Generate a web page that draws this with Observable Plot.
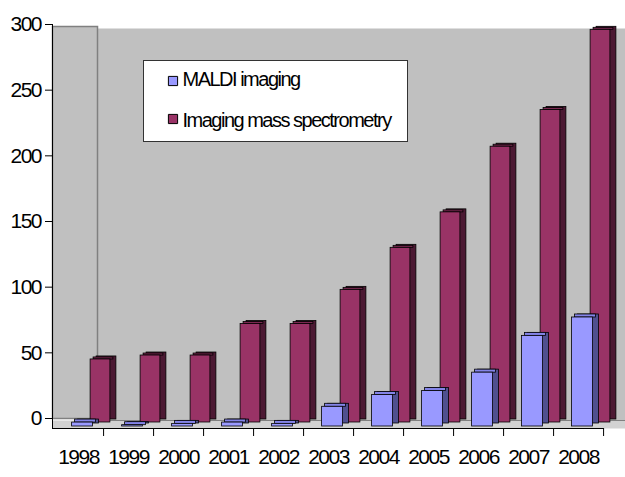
<!DOCTYPE html>
<html><head><meta charset="utf-8">
<script src="https://cdn.jsdelivr.net/npm/d3@7"></script>
<script src="https://cdn.jsdelivr.net/npm/@observablehq/plot@0.6"></script>
<style>
html,body{margin:0;padding:0;background:#fff;}
#chart svg text{letter-spacing:-1.5px;}
</style></head><body><div id="chart"></div>
<script>
// ---- data ----
const years = ["1998","1999","2000","2001","2002","2003","2004","2005","2006","2007","2008"];
const maldiImaging = [3, 1, 2, 3, 2, 15, 24, 27, 41, 69, 83];
const imagingMassSpec = [48, 51, 51, 75, 75, 101, 133, 160, 210, 238, 299];
const seriesNames = ["MALDI imaging", "Imaging mass spectrometry"];
const yTicks = [0, 50, 100, 150, 200, 250, 300];

const rows = years.map((year, i) => ({year, maldi: maldiImaging[i], ims: imagingMassSpec[i]}));

// ---- style ----
const W = 625, H = 477, mL = 52, mR = 21, mT = 24, mB = 59;
const blue = "#9999ff", blueSide = "#50508f", blueTop = "#8484e8";
const maroon = "#993366", maroonSide = "#4c1933", maroonTop = "#7a2851";
const wall = "#c0c0c0", floor = "#d2d2d2", edge = "#808080";
const font = "'Liberation Sans', Arial, sans-serif";

const bar = (y, fill, dx, dy, inset) => Plot.barY(rows, {
  x: "year", y, fill, stroke: "#000", strokeWidth: 0.8,
  insetLeft: inset, insetRight: inset, dx, dy
});
// thin top face of a 3D column
const topFace = (y, fill, dx, dy, inset, depth) => Plot.barY(rows, {
  x: "year", y1: y, y2: y, fill, stroke: "#000", strokeWidth: 0.8,
  insetLeft: inset, insetRight: inset, insetTop: -depth, dx, dy
});

const chart = Plot.plot({
  width: W, height: H,
  marginLeft: mL, marginRight: mR, marginTop: mT, marginBottom: mB,
  style: {fontFamily: font, background: "#fff", overflow: "visible"},
  x: {type: "band", domain: years, padding: 0, label: null},
  y: {domain: [0, 300], label: null},
  marks: [
    // back wall
    Plot.frame({fill: wall, insetLeft: 45, insetTop: 4, insetBottom: -2, insetRight: -mR}),
    // floor
    Plot.frame({fill: floor, insetTop: H - mT - mB + 2, insetBottom: -10, insetRight: -mR}),
    Plot.ruleY([0], {dy: 2, insetLeft: 45, insetRight: -mR, stroke: edge}),
    // left side wall
    Plot.frame({fill: wall, stroke: edge, strokeWidth: 1.5, insetTop: 2, insetRight: W - mL - mR - 45}),
    // legend box
    Plot.frame({fill: "#fff", stroke: "#333", strokeWidth: 1, insetLeft: 91, insetTop: 36, insetRight: 197, insetBottom: 277}),
    Plot.dot([seriesNames[0]], {frameAnchor: "top-left", dx: 120.5, dy: 56.5, symbol: "square", r: 5.2, fill: blue, stroke: "#000", strokeWidth: 1}),
    Plot.dot([seriesNames[1]], {frameAnchor: "top-left", dx: 120.5, dy: 94.5, symbol: "square", r: 5.2, fill: maroon, stroke: "#000", strokeWidth: 1}),
    Plot.text([seriesNames[0]], {frameAnchor: "top-left", text: d => d, dx: 130, dy: 47.7, textAnchor: "start", lineAnchor: "top", fontSize: 20, fill: "#000"}),
    Plot.text([seriesNames[1]], {frameAnchor: "top-left", text: d => d, dx: 130, dy: 88.3, textAnchor: "start", lineAnchor: "top", fontSize: 20, fill: "#000"}),
    // back row: Imaging mass spectrometry (side face, top face, front face)
    bar("ims", maroonSide, 28, 1, 15.1),
    topFace("ims", maroonTop, 25, 4, 15.1, 2),
    bar("ims", maroon, 22, 4, 15.1),
    // front row: MALDI imaging
    bar("maldi", blueSide, 10, 5, 14.6),
    topFace("maldi", blueTop, 7, 8, 14.6, 3),
    bar("maldi", blue, 4, 8, 14.6),
    // floor front edge and axes
    Plot.ruleY([0], {dy: 10, stroke: "#000", strokeWidth: 1}),
    Plot.frame({anchor: "left", stroke: "#000", strokeWidth: 1, insetBottom: -10}),
    Plot.axisY(yTicks, {tickSize: 7, tickPadding: 4.5, fontSize: 21, stroke: "#000", fill: "#000"}),
    Plot.axisX({tickSize: 8, dx: (W - mL - mR) / years.length / 2, dy: 10, tickFormat: () => "", stroke: "#000"}),
    Plot.axisX({tickSize: 0, tickPadding: 31, fontSize: 21, fill: "#000"})
  ]
});
document.getElementById("chart").appendChild(chart);
</script></body></html>
